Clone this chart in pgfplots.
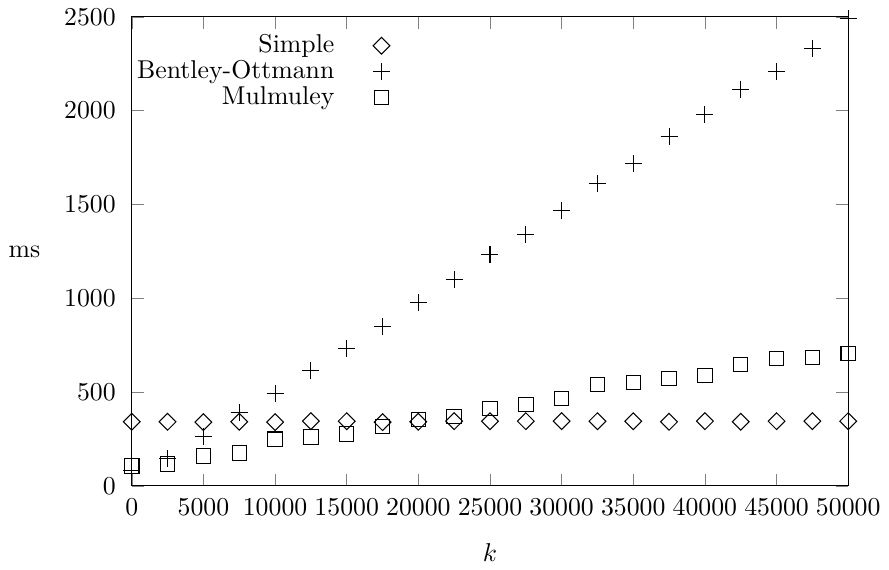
\documentclass[border=0pt]{standalone}
\usepackage{pgfplots}
\pgfplotsset{compat=1.18}

\begin{document}
\begin{tikzpicture}
\begin{axis}[
    scale only axis,
    width=278pt, height=182pt,
    xmin=0, xmax=50000,
    ymin=0, ymax=2500,
    xtick={0,5000,...,50000},
    ytick={0,500,...,2500},
    scaled x ticks=false,
    tick align=inside,
    major tick length=4.6pt,
    /pgf/number format/1000 sep={},
    yticklabel style={xshift=-2.7pt},
    xticklabel style={yshift=-1.5pt},
    xlabel={$k$},
    xlabel style={yshift=-4pt},
    ylabel={ms},
    every axis y label/.style={at={(rel axis cs:0,0.5)}, anchor=east, xshift=-32pt},
    clip=false,
    legend style={at={(0.372,0.985)}, anchor=north east, draw=none, fill=none,
        row sep=-2.5pt, column sep=13pt},
    legend cell align=right,
    legend plot pos=right,
    every axis plot/.append style={black, thin},
]
\addplot[only marks, mark=square, mark size=2.3pt, mark options={rotate=45}] coordinates {
  (0, 342) (2500, 342) (5000, 340) (7500, 342) (10000, 340)
  (12500, 345) (15000, 345) (17500, 340) (20000, 342) (22500, 345)
  (25000, 345) (27500, 345) (30000, 345) (32500, 345) (35000, 345)
  (37500, 342) (40000, 345) (42500, 342) (45000, 345) (47500, 345)
  (50000, 345)
};
\addlegendentry{Simple}
\addplot[only marks, mark=+, mark size=3.3pt] coordinates {
  (0, 80) (2500, 145) (5000, 265) (7500, 390) (10000, 493)
  (12500, 615) (15000, 733) (17500, 850) (20000, 978) (22500, 1100)
  (25000, 1235) (27500, 1341) (30000, 1467) (32500, 1611) (35000, 1717)
  (37500, 1860) (40000, 1982) (42500, 2115) (45000, 2210) (47500, 2332)
  (50000, 2490)
};
\addlegendentry{Bentley-Ottmann}
\addplot[only marks, mark=square, mark size=2.8pt] coordinates {
  (0, 106) (2500, 117) (5000, 159) (7500, 175) (10000, 249)
  (12500, 260) (15000, 276) (17500, 318) (20000, 355) (22500, 371)
  (25000, 413) (27500, 434) (30000, 466) (32500, 541) (35000, 551)
  (37500, 573) (40000, 589) (42500, 647) (45000, 679) (47500, 685)
  (50000, 706)
};
\addlegendentry{Mulmuley}
\end{axis}
\end{tikzpicture}
\end{document}
